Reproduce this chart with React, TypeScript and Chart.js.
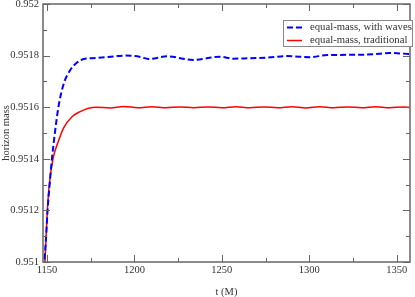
import React, { useEffect, useRef } from "react";
import { Chart, registerables } from "chart.js";

Chart.register(...registerables);

const blueT = [1148.0, 1148.5, 1149.5, 1150.3, 1151.5, 1152.8, 1154.5, 1156.5, 1159.5, 1163.3, 1167.0, 1171.0, 1176.0, 1185.0, 1194.7, 1203.3, 1208.0, 1218.7, 1233.6, 1249.0, 1256.5, 1266.0, 1275.9, 1287.3, 1300.5, 1310.2, 1325.0, 1336.0, 1346.2, 1357.6];
const blueM = [0.95094, 0.951, 0.9511, 0.9512, 0.9513, 0.9514, 0.9515, 0.9516, 0.95169, 0.951744, 0.951772, 0.951787, 0.95179, 0.951795, 0.9518, 0.951795, 0.951787, 0.951797, 0.951783, 0.951796, 0.951788, 0.95179, 0.951792, 0.951798, 0.951794, 0.951802, 0.951803, 0.951805, 0.95181, 0.951806];

const redT = [1148.3, 1148.8, 1150.2, 1151.3, 1153.4, 1156.6, 1159.5, 1164.3, 1169.0, 1173.8, 1178.0, 1186.0, 1194.0, 1202.0, 1210.0, 1218.0, 1226.0, 1234.0, 1242.0, 1250.0, 1258.0, 1266.0, 1274.0, 1282.0, 1290.0, 1298.0, 1306.0, 1314.0, 1322.0, 1330.0, 1338.0, 1346.0, 1354.0, 1357.6];
const redM = [0.95094, 0.951, 0.9512, 0.9513, 0.9514, 0.95147, 0.95152, 0.951563, 0.951583, 0.951596, 0.9516, 0.951597, 0.951603, 0.951598, 0.951602, 0.951598, 0.951601, 0.951598, 0.951601, 0.951598, 0.951602, 0.951598, 0.951601, 0.951598, 0.951602, 0.951597, 0.951602, 0.951598, 0.951601, 0.951598, 0.951602, 0.951598, 0.951601, 0.951599];

const xTickValues = [1150, 1200, 1250, 1300, 1350];
const xMinorValues = [1175, 1225, 1275, 1325];
const yTickValues = [0.951, 0.9512, 0.9514, 0.9516, 0.9518, 0.952];
const yMinorValues = [0.9511, 0.9513, 0.9515, 0.9517, 0.9519];
const seriesLabels = ["equal-mass, with waves", "equal-mass, traditional"];
const xTitle = "t (M)";
const yTitle = "horizon mass";

const FONT = "'Liberation Serif', 'DejaVu Serif', serif";
const AXIS_COLOR = "#666666";
const TEXT_COLOR = "#333333";

const framePlugin = {
  id: "frameTicks",
  afterDraw(chart: any) {
    const { ctx, chartArea, scales } = chart;
    const { left, right, top, bottom } = chartArea;
    const xs = scales.x;
    const ys = scales.y;
    ctx.save();
    ctx.strokeStyle = AXIS_COLOR;
    ctx.lineWidth = 1.5;
    ctx.strokeRect(left, top, right - left, bottom - top);
    ctx.lineWidth = 1;
    const major = 7;
    const minor = 4;
    ctx.beginPath();
    const vx = (v: number, len: number) => {
      const p = Math.round(xs.getPixelForValue(v)) + 0.5;
      ctx.moveTo(p, bottom);
      ctx.lineTo(p, bottom - len);
      ctx.moveTo(p, top);
      ctx.lineTo(p, top + len);
    };
    const vy = (v: number, len: number) => {
      const p = Math.round(ys.getPixelForValue(v)) + 0.5;
      ctx.moveTo(left, p);
      ctx.lineTo(left + len, p);
      ctx.moveTo(right, p);
      ctx.lineTo(right - len, p);
    };
    xTickValues.forEach((v) => vx(v, major));
    xMinorValues.forEach((v) => vx(v, minor));
    yTickValues.forEach((v) => vy(v, major));
    yMinorValues.forEach((v) => vy(v, minor));
    ctx.stroke();

    // legend
    const bx = 283.5;
    const by = 20.5;
    const bw = 129;
    const bh = 26;
    ctx.fillStyle = "#ffffff";
    ctx.fillRect(bx, by, bw, bh);
    ctx.strokeStyle = "#888888";
    ctx.lineWidth = 1;
    ctx.strokeRect(bx, by, bw, bh);
    const rows = [27.5, 40.5];
    chart.data.datasets.forEach((ds: any, i: number) => {
      const y = rows[i];
      ctx.beginPath();
      ctx.strokeStyle = ds.borderColor;
      ctx.lineWidth = ds.borderWidth;
      ctx.setLineDash(ds.borderDash || []);
      ctx.moveTo(287, y);
      ctx.lineTo(302, y);
      ctx.stroke();
      ctx.setLineDash([]);
      ctx.fillStyle = TEXT_COLOR;
      ctx.font = `10.7px ${FONT}`;
      ctx.textBaseline = "middle";
      ctx.textAlign = "left";
      ctx.fillText(ds.label, 310, y);
    });
    ctx.restore();
  },
};

export default function App() {
  const ref = useRef<HTMLCanvasElement | null>(null);
  useEffect(() => {
    if (!ref.current) return;
    const chart = new Chart(ref.current, {
      type: "line",
      data: {
        datasets: [
          {
            label: seriesLabels[0],
            data: blueT.map((t, i) => ({ x: t, y: blueM[i] })),
            borderColor: "#0000ff",
            borderWidth: 2,
            borderDash: [6, 3],
            pointRadius: 0,
            cubicInterpolationMode: "monotone",
            fill: false,
          },
          {
            label: seriesLabels[1],
            data: redT.map((t, i) => ({ x: t, y: redM[i] })),
            borderColor: "#ff0000",
            borderWidth: 1.5,
            pointRadius: 0,
            cubicInterpolationMode: "monotone",
            fill: false,
          },
        ],
      },
      options: {
        animation: false,
        responsive: false,
        devicePixelRatio: 1,
        layout: { padding: { left: 0, right: 5, top: 4, bottom: 0 } },
        plugins: { legend: { display: false }, tooltip: { enabled: false } },
        scales: {
          x: {
            type: "linear",
            min: 1147.7,
            max: 1357.6,
            grid: { display: false, drawTicks: false },
            border: { display: false },
            afterBuildTicks: (s: any) => {
              s.ticks = xTickValues.map((v) => ({ value: v }));
            },
            afterFit: (s: any) => {
              s.height = 35;
              s.paddingLeft = 0;
              s.paddingRight = 0;
            },
            ticks: {
              padding: 2,
              color: TEXT_COLOR,
              font: { family: FONT, size: 10.5 },
              maxRotation: 0,
              autoSkip: false,
              callback: (v: any) => String(v),
            },
            title: {
              display: true,
              text: xTitle,
              color: TEXT_COLOR,
              font: { family: FONT, size: 10.5, lineHeight: 1 },
              padding: { top: 0, bottom: 0 },
            },
          },
          y: {
            type: "linear",
            min: 0.951,
            max: 0.952,
            grid: { display: false, drawTicks: false },
            border: { display: false },
            afterBuildTicks: (s: any) => {
              s.ticks = yTickValues.map((v) => ({ value: v }));
            },
            afterFit: (s: any) => {
              s.width = 43;
              s.paddingTop = 0;
              s.paddingBottom = 0;
            },
            ticks: {
              padding: 4,
              color: TEXT_COLOR,
              font: { family: FONT, size: 10.5 },
              autoSkip: false,
              callback: (v: any) => Number(v).toFixed(4).replace(/0+$/, ""),
            },
            title: {
              display: true,
              text: yTitle,
              color: TEXT_COLOR,
              font: { family: FONT, size: 10.5, lineHeight: 1.1 },
              padding: { top: 0, bottom: 0 },
            },
          },
        },
      },
      plugins: [framePlugin],
    } as any);
    return () => chart.destroy();
  }, []);
  return (
    <div style={{ position: "fixed", left: 0, top: 0, width: 415, height: 297, background: "#fff" }}>
      <canvas ref={ref} width={415} height={297} />
    </div>
  );
}
